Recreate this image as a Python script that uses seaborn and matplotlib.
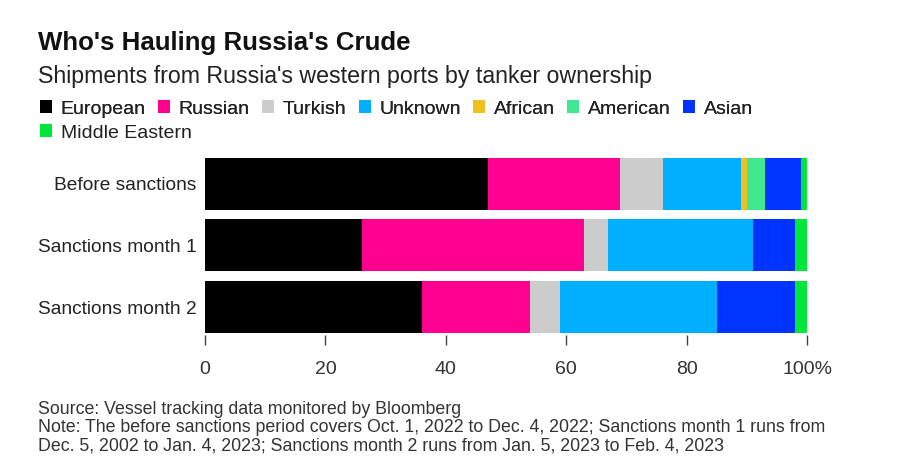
import numpy as np
import pandas as pd
import seaborn as sns
import matplotlib.pyplot as plt
from matplotlib.patches import Patch

periods = ['Before sanctions', 'Sanctions month 1', 'Sanctions month 2']
owners = ['European', 'Russian', 'Turkish', 'Unknown', 'African',
          'American', 'Asian', 'Middle Eastern']

# share of shipments (%) by owner, one list per period
european = [47, 26, 36]
russian = [22, 37, 18]
turkish = [7, 4, 5]
unknown = [13, 24, 26]
african = [1, 0, 0]
american = [3, 0, 0]
asian = [6, 7, 13]
middle_eastern = [1, 2, 2]

colors = ['#000000', '#ff0090', '#cccccc', '#00b0ff', '#f0c020',
          '#40e890', '#0033ff', '#00e63a']

sns.set_theme(style='white')
plt.rcParams['font.family'] = ['Liberation Sans', 'DejaVu Sans']

df = pd.DataFrame({'period': periods, 'European': european, 'Russian': russian,
                   'Turkish': turkish, 'Unknown': unknown, 'African': african,
                   'American': american, 'Asian': asian,
                   'Middle Eastern': middle_eastern})
cum = df[owners].cumsum(axis=1)
cum['period'] = df['period']

fig = plt.figure(figsize=(9, 4.73), dpi=100)
ax = fig.add_axes([205 / 900, 1 - 335 / 473, 602 / 900, 180 / 473])

# stacked bars: draw cumulative totals from the outermost segment inward
for owner, color in reversed(list(zip(owners, colors))):
    sns.barplot(data=cum, x=owner, y='period', orient='h', color=color,
                width=0.845, saturation=1, linewidth=0, ax=ax)

ax.set_xlim(0, 100)
ax.set_ylim(2.455, -0.47)
ax.set_xlabel('')
ax.set_ylabel('')
ax.set_xticks([0, 20, 40, 60, 80, 100])
ax.set_xticklabels(['0', '20', '40', '60', '80', '100%'])
ax.tick_params(axis='x', length=7, width=1, color='#444444', pad=12,
               labelsize=14, labelcolor='#333333', bottom=True)
ax.tick_params(axis='y', length=0, pad=6, labelsize=13.8, labelcolor='#222222')
sns.despine(ax=ax, left=True, bottom=True)

fig.text(38 / 900, 1 - 43 / 473, "Who's Hauling Russia's Crude", fontsize=18.6,
         fontweight='bold', color='#111111', va='center')
fig.text(38 / 900, 1 - 76 / 473,
         "Shipments from Russia's western ports by tanker ownership",
         fontsize=16.7, color='#222222', va='center')

handles = [Patch(facecolor=c, edgecolor='none') for c in colors]
leg_kw = dict(frameon=False, fontsize=14, handlelength=0.62, handleheight=0.62,
              handletextpad=0.45, columnspacing=0.63, borderpad=0,
              borderaxespad=0, labelcolor='#222222')
leg1 = fig.legend(handles[:7], owners[:7], loc='center left', ncol=7,
                  bbox_to_anchor=(40 / 900, 1 - 109 / 473), **leg_kw)
fig.legend(handles[7:], owners[7:], loc='center left', ncol=1,
           bbox_to_anchor=(40 / 900, 1 - 133 / 473), **leg_kw)
fig.add_artist(leg1)

notes = ['Source: Vessel tracking data monitored by Bloomberg',
         'Note: The before sanctions period covers Oct. 1, 2022 to Dec. 4, 2022; '
         'Sanctions month 1 runs from',
         'Dec. 5, 2002 to Jan. 4, 2023; Sanctions month 2 runs from Jan. 5, 2023 '
         'to Feb. 4, 2023']
for i, line in enumerate(notes):
    fig.text(38 / 900, 1 - (409 + 18.7 * i) / 473, line, fontsize=12.8,
             color='#333333', va='center')

plt.savefig('out.png', dpi=100)
